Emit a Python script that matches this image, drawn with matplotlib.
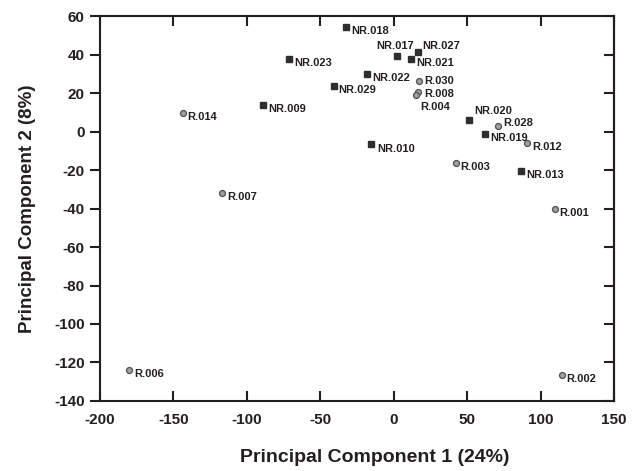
import matplotlib
matplotlib.use('Agg')
from matplotlib import pyplot as plt
import numpy as np

plt.rcParams['font.family'] = ['Liberation Sans', 'DejaVu Sans']
plt.rcParams['font.weight'] = 'bold'
plt.rcParams['axes.unicode_minus'] = False

# non-resistant (NR) samples: squares
nrNames = ['NR.018', 'NR.023', 'NR.017', 'NR.027', 'NR.021', 'NR.022', 'NR.029',
           'NR.009', 'NR.010', 'NR.020', 'NR.019', 'NR.013']
nrPC1 = [-32.2, -71.3, 2.0, 16.5, 11.6, -17.9, -41.0, -89.0, -15.2, 51.3, 62.2, 86.9]
nrPC2 = [54.4, 37.8, 39.5, 41.7, 37.8, 30.1, 23.9, 13.7, -6.4, 6.2, -1.0, -20.6]

# resistant (R) samples: circles
rNames = ['R.030', 'R.008', 'R.004', 'R.014', 'R.028', 'R.012', 'R.003',
          'R.007', 'R.001', 'R.002', 'R.006']
rPC1 = [17.2, 16.5, 15.0, -143.8, 71.1, 91.0, 42.2, -116.6, 109.6, 114.4, -180.2]
rPC2 = [26.5, 20.9, 19.2, 10.0, 3.1, -5.9, -16.3, -31.8, -40.2, -126.5, -124.0]

xTicks = np.arange(-200, 151, 50)
yTicks = np.arange(-140, 61, 20)

# label offsets in pixels (dx right, dy up); default is right and a bit below
labelShift = {'NR.017': (17, 10, 'right'), 'NR.027': (4, 6, 'left'),
              'NR.020': (5, 9, 'left'), 'R.028': (5, 3, 'left'),
              'R.004': (4, -12, 'left'), 'R.030': (5, 0, 'left'),
              'R.008': (6, -2, 'left'), 'NR.010': (6, -5, 'left')}
px = 0.72  # points per pixel at dpi 100
txtColor = '#231f20'

fig = plt.figure(figsize=(6.33, 4.71), dpi=100)
ax = fig.add_axes([0.158, 0.149, 0.812, 0.816])

ax.plot(nrPC1, nrPC2, linestyle='none', marker='s', markersize=4.2,
        color='#2e2e2e', markeredgecolor='#2e2e2e')
ax.plot(rPC1, rPC2, linestyle='none', marker='o', markersize=4.3,
        markerfacecolor='#a0a0a0', markeredgecolor='#505050', markeredgewidth=0.9)

for names, xs, ys in [(nrNames, nrPC1, nrPC2), (rNames, rPC1, rPC2)]:
    for n, x, y in zip(names, xs, ys):
        dx, dy, ha = labelShift.get(n, (5, -4, 'left'))
        ax.annotate(n, (x, y), xytext=(dx * px, dy * px), textcoords='offset points',
                    ha=ha, va='center', fontsize=8, fontweight='bold', color=txtColor)

ax.set_xlim(-200, 150)
ax.set_ylim(-140, 60)
ax.set_xticks(xTicks)
ax.set_yticks(yTicks)
for s in ax.spines.values():
    s.set_linewidth(1.5)
    s.set_color(txtColor)
ax.tick_params(axis='x', direction='in', top=True, length=7, width=1.5,
               labelsize=11, colors=txtColor, pad=9)
ax.tick_params(axis='y', direction='out', length=7, width=1.5,
               labelsize=11, colors=txtColor, pad=4)
sec = ax.secondary_yaxis('right')
sec.set_yticks(yTicks)
sec.tick_params(direction='in', length=7, width=1.5, labelright=False, colors=txtColor)
sec.spines['right'].set_linewidth(1.5)
sec.spines['right'].set_color(txtColor)

ax.set_xlabel('Principal Component 1 (24%)', fontsize=14, fontweight='bold',
              color=txtColor)
ax.xaxis.set_label_coords(0.535, -0.125)
ax.set_ylabel('Principal Component 2 (8%)', fontsize=13.5, fontweight='bold',
              color=txtColor, labelpad=13)

fig.savefig('out.png', dpi=100)
